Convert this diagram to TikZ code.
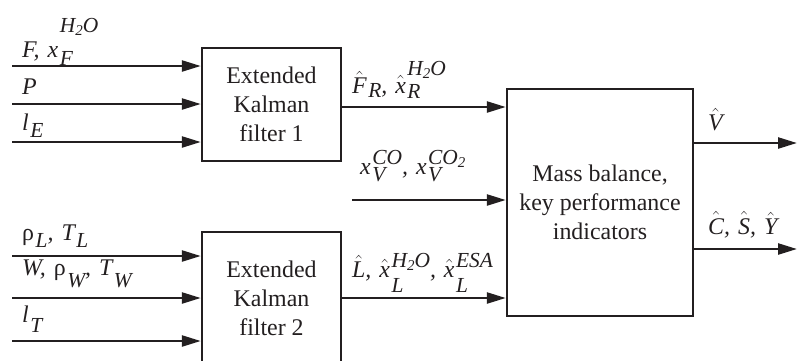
\documentclass[tikz,border=0pt]{standalone}
\usepackage{amsmath}
\usepackage{fontspec}
\setmainfont{Liberation Serif}
\usetikzlibrary{arrows.meta}
\definecolor{ink}{HTML}{231F20}
\newcommand{\sfnt}{\fontsize{21.5}{21.5}\selectfont\itshape}
\newcommand{\mysub}[2]{\kern1.5bp\raisebox{-#1}{\sfnt #2}}
\newcommand{\mysubsup}[4]{\kern1.5bp\ooalign{\raisebox{-#1}{\sfnt #2}\cr\raisebox{#3}{\sfnt #4}\cr}}
\newcommand{\twosub}{\raisebox{-3bp}{\fontsize{15}{15}\selectfont 2}}
\newcommand{\htwoo}{H\twosub O}
\newcommand{\myhat}[1]{$\hat{\text{\itshape #1}}$}
\newcommand{\wsp}{\hspace{8bp}}
\begin{document}
\begin{tikzpicture}[x=1bp,y=-1bp,
  every node/.style={text=ink},
  block/.style={draw=ink, line width=2.4bp, inner sep=0pt, align=center,
    font=\fontsize{24}{29}\selectfont},
  lbl/.style={anchor=base west, inner sep=0pt,
    font=\fontsize{24}{28}\selectfont\itshape},
  arr/.style={draw=ink, line width=2.4bp, -{Triangle[length=19bp,width=11bp]}}]
\useasboundingbox (0,0) rectangle (798,360);
\clip (0,0) rectangle (798,360);
% blocks
\node[block, minimum width=139bp, minimum height=113bp] (ekf1) at (271.5,104.5) {Extended\\Kalman\\filter 1};
\node[block, minimum width=139bp, minimum height=133bp] (ekf2) at (271.5,298.5) {Extended\\Kalman\\filter 2};
\node[block, minimum width=186bp, minimum height=227bp] (mb) at (600,202.5) {Mass balance,\\key performance\\indicators};
% input start points
\coordinate (i1) at (12,66);
\coordinate (i2) at (12,104);
\coordinate (i3) at (12,142);
\coordinate (i4) at (12,256);
\coordinate (i5) at (12,298);
\coordinate (i6) at (12,341);
\coordinate (xv) at (352,200);
\coordinate (y1) at (0,107);
\coordinate (y2) at (0,298);
\coordinate (vo) at (797,143);
\coordinate (co) at (797,249);
% input arrows
\draw[arr] (i1) -- (i1 -| ekf1.west);
\draw[arr] (i2) -- (i2 -| ekf1.west);
\draw[arr] (i3) -- (i3 -| ekf1.west);
\draw[arr] (i4) -- (i4 -| ekf2.west);
\draw[arr] (i5) -- (i5 -| ekf2.west);
\draw[arr] (i6) -- (i6 -| ekf2.west);
% middle arrows
\draw[arr] (ekf1.east |- y1) -- (mb.west |- y1);
\draw[arr] (xv) -- (xv -| mb.west);
\draw[arr] (ekf2.east |- y2) -- (mb.west |- y2);
% outputs
\draw[arr] (mb.east |- vo) -- (vo);
\draw[arr] (mb.east |- co) -- (co);
% labels
\node[lbl] (l1) at (22,57) {F,\wsp x\mysubsup{8bp}{F}{25bp}{\htwoo}};
\node[lbl] (l2) at (22,94) {P};
\node[lbl] (l3) at (22,130) {l\mysub{7bp}{E}};
\node[lbl] (l4) at (22,240) {{\upshape ρ}\mysub{7bp}{L},\wsp T\mysub{7bp}{L}};
\node[lbl] (l5) at (22,275) {W,\wsp{\upshape ρ}\mysub{12bp}{W},\wsp T\mysub{12bp}{W}};
\node[lbl] (l6) at (22,322) {l\mysub{10bp}{T}};
\node[lbl] (l7) at (352,93) {\myhat{F}\mysub{4bp}{R},\wsp\myhat{x}\mysubsup{5bp}{R}{18bp}{\htwoo}};
\node[lbl] (l8) at (360,174) {x\mysubsup{7bp}{V}{10bp}{CO},\wsp x\mysubsup{7bp}{V}{10bp}{CO\twosub}};
\node[lbl] (l9) at (352,277) {\myhat{L},\wsp\myhat{x}\mysubsup{15bp}{L}{10bp}{\htwoo},\wsp\myhat{x}\mysubsup{15bp}{L}{10bp}{ESA}};
\node[lbl] (l10) at (708,130) {\myhat{V}};
\node[lbl] (l11) at (708,234) {\myhat{C},\wsp\myhat{S},\wsp\myhat{Y}};
\end{tikzpicture}
\end{document}
